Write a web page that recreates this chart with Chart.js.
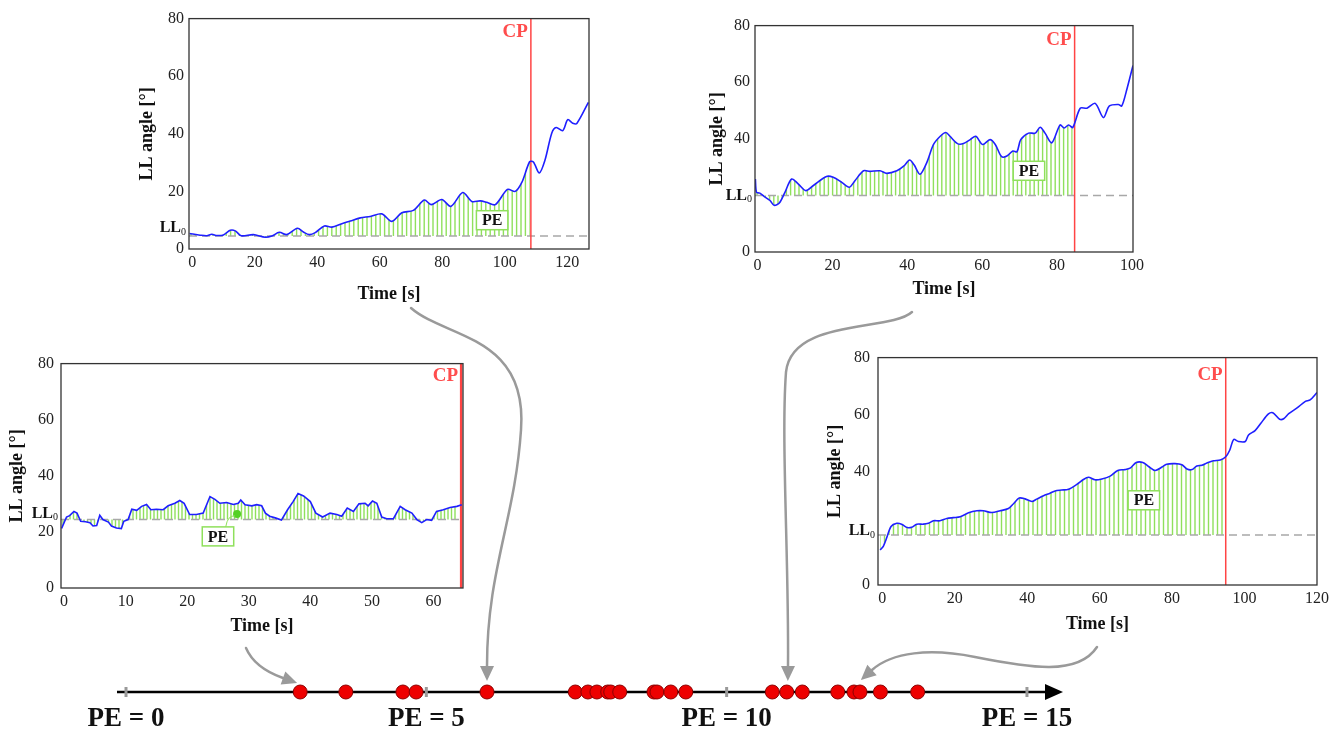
<!DOCTYPE html>
<html><head><meta charset="utf-8">
<script src="https://cdn.jsdelivr.net/npm/chart.js@4.4.1/dist/chart.umd.min.js"></script>
<style>
html,body{margin:0;padding:0;background:#fff;width:1338px;height:731px;overflow:hidden;position:relative}
canvas{display:block;position:absolute}
#ov{left:0;top:0;pointer-events:none;z-index:5}
</style></head><body>
<canvas id="cA"></canvas><canvas id="cB"></canvas><canvas id="cC"></canvas><canvas id="cD"></canvas>
<canvas id="cPE"></canvas>
<canvas id="ov" width="1338" height="731"></canvas>
<script>
// ---------- DATA ----------
const timeA=[-0.85,2.6,4.7,6.3,7.9,10,12.2,13.8,15.7,19.6,23.4,25.5,27.9,30.3,33.7,35.6,37.5,39.4,42.3,44.7,47.9,50.6,53.8,57,60.7,63.9,67.1,70.8,74.3,76.5,79.9,82.8,86.6,89.5,92.2,94.3,97,100.9,103.4,105.5,108,109.2,111.1,112.9,115.1,116.5,118.6,120.2,121.8,123.1,126.8];
const angleA=[5.4,4.8,4.6,5.1,4.7,4.9,6.5,6.3,4.6,5.0,4.1,4.5,5.8,5.0,7.2,5.9,5.0,5.7,8.0,7.6,8.8,9.7,10.8,11.3,12.2,9.6,12.6,13.4,17.0,15.4,17.2,14.8,19.6,16.5,16.7,16.2,15.4,20.7,20.0,23.1,30.3,30.2,26.4,30.8,40.3,42.2,41.1,44.9,43.7,43.6,50.9];
const ll0A=4.5, cpA=108.4, peLabelA=[96,10];

const timeB=[-0.6,-0.3,0.6,2,3.3,4.4,5.8,7.3,9.1,10.9,12.9,14.9,18.4,20.2,22.5,24.5,26,28.3,30,32.7,34.5,37.2,39.1,40.6,41.8,43.4,45.2,47,48.8,50.3,51.4,53.4,55,56.8,58.3,60.1,62.1,63.5,65.2,66.6,68.2,69.3,70.3,72.4,74.2,75.5,76.8,78.6,80.8,81.9,83.1,84.2,86.2,88,90.2,92.4,94,96.4,97.3,98.7,100.3];
const angleB=[25.8,21.1,20.8,19.4,18.2,16.5,17.3,21.1,25.8,24.0,21.7,23.5,26.7,26.4,24.6,22.9,25.2,28.7,28.5,28.7,27.8,28.7,30.4,32.5,30.8,27.5,31.6,38.0,40.9,42.2,40.9,38.3,38.3,39.7,40.9,38.0,39.7,38.0,33.7,33.9,35.7,35.4,39.7,42.0,42.0,44.1,42.0,38.6,44.9,43.8,44.9,44.0,50.8,50.8,52.5,47.5,51.6,52.1,51.6,57.7,65.9];
const ll0B=20, cpB=84.7, peLabelB=[72.5,28.7];

const timeC=[-0.4,0,0.4,0.9,1.6,2.1,2.7,3.5,4.2,4.7,5.3,5.8,6.3,7.2,7.7,8.5,9.3,9.7,10.4,11,11.8,12.6,13.4,14.1,15,16.1,16.9,18,18.8,19.5,20.4,21.5,22.6,23.7,24.5,25.3,26.4,27.5,28.3,28.7,29.4,30.5,31.3,32.1,32.7,33.4,34.3,35.3,36.3,37.2,38,38.9,40,40.9,42,43.2,44.3,45.1,46,47,47.9,48.9,49.4,50.1,50.8,51.6,52.4,53.5,54.6,55.4,56.5,57.3,58.1,58.9,59.7,60.5,61.6,62.7,63.8,64.6];
const angleC=[21.2,23.3,25.3,25.8,27.3,26.7,23.8,23.6,23.3,22.1,22.3,25.9,24.4,23.5,22.1,21.4,21.2,23.8,24.4,28.1,27.7,29.1,29.8,27.9,28.1,27.9,29.3,30.2,31.2,30.2,26.2,26.2,26.7,32.6,31.6,30.2,30.5,29.8,30.2,31.4,29.7,29.3,29.7,29.3,26.7,25.6,25.0,24.2,27.9,30.8,33.7,32.8,30.8,26.7,25.3,26.7,26.2,25.6,28.5,27.3,30.0,30.2,29.3,31.0,30.2,25.3,24.7,24.7,29.1,27.9,26.7,24.4,23.3,24.4,24.1,27.3,27.9,28.7,29.1,29.7];
const ll0C=24.4, cpC=64.5, peLabelC=[25,18.4], peDotC=[28.1,26.4];

const timeD=[-0.6,0.3,1.2,2.4,4.0,5.3,6.9,8.1,9.5,11.3,12.7,14.1,15.9,17.8,19.6,21.5,23.8,26.1,27.9,30.2,32.5,34.8,36.2,37.8,39.4,41.3,42.6,44.5,46.3,47.7,49.5,51.4,53.7,55.5,56.9,58.7,60.6,62.9,65.0,67.0,68.4,70.1,71.9,73.5,75.3,77.2,78.5,80.8,82.7,84.1,85.5,86.8,88.2,89.6,91.4,93.3,94.8,95.9,97.0,98.3,100.2,101.1,102.9,104.5,106.6,107.8,109.7,110.8,112.2,114.5,116.8,118.1,120];
const angleD=[12.3,13.7,16.6,20.6,21.7,21.4,20.2,20.3,21.4,21.4,21.7,22.6,22.6,23.4,23.7,24.0,25.4,26.1,26.1,25.5,26.1,26.9,28.6,30.6,30.3,29.4,30.2,31.4,32.3,33.1,33.4,33.7,35.4,37.1,37.9,37.0,37.3,38.3,40.3,40.6,41.1,43.1,43.1,41.7,40.3,41.5,42.5,42.7,42.3,40.8,40.6,41.9,42.1,42.9,43.7,44.0,45.1,47.4,51.2,50.5,50.5,52.8,54.3,56.9,60.2,60.6,58.3,58.5,60.3,62.3,64.6,65.1,67.7];
const ll0D=17.6, cpD=94.8, peLabelD=[72.2,29.8];

const yTicksA=[0,20,40,60,80];
const yTicksB=[0,40,60,80];
const yTicksC=[0,20,40,60,80];
const yTicksD=[0,40,60,80];
const xTicksA=[0,20,40,60,80,100,120];
const xTicksB=[0,20,40,60,80,100];
const xTicksC=[0,10,20,30,40,50,60];
const xTicksD=[0,20,40,60,80,100,120];

const peValues=[2.90,3.66,4.61,4.83,6.01,7.48,7.69,7.84,8.02,8.07,8.22,8.79,8.84,9.07,9.32,10.76,11.00,11.26,11.85,12.12,12.22,12.56,13.18];
const peTicks=[0,5,10,15];

// ---------- STYLE / LAYOUT ----------
const FONT='"Liberation Serif", "DejaVu Serif", serif';
Chart.defaults.font.family=FONT;
Chart.defaults.color='#1a1a1a';
const GREEN='#8fe05c', BLUE='#1f1fff', RED='#ff4444', GREY='#a8a8a8';

const panels=[
 {cv:'cA', t:timeA, v:angleA, ll0:ll0A, cp:cpA, pe:peLabelA, xTicks:xTicksA, yTicks:yTicksA, xMin:-1, xMax:127,
  L:189,T:16,R:589,B:249, Lw:52, Bh:56, Tp:12, Rp:16, tension:0.3, hs:4.4, llDy:-8, cpDy:13, yPad:5, cpW:1.5},
 {cv:'cB', t:timeB, v:angleB, ll0:ll0B, cp:cpB, pe:peLabelB, xTicks:xTicksB, yTicks:yTicksB, xMin:-0.7, xMax:100.3,
  L:755,T:23,R:1133,B:252, Lw:48, Bh:48, Tp:12, Rp:16, tension:0.3, hs:4.2, llDy:0, cpDy:14, yPad:5, cpW:1.5},
 {cv:'cC', t:timeC, v:angleC, ll0:ll0C, cp:cpC, pe:peLabelC, xTicks:xTicksC, yTicks:yTicksC, xMin:-0.5, xMax:64.8,
  L:61,T:359,R:463,B:588, Lw:54, Bh:49, Tp:12, Rp:16, tension:0, hs:3.5, llDy:-6, cpDy:12, yPad:7, cpW:2.5, dot:peDotC},
 {cv:'cD', t:timeD, v:angleD, ll0:ll0D, cp:cpD, pe:peLabelD, xTicks:xTicksD, yTicks:yTicksD, xMin:-1.2, xMax:120,
  L:878,T:352,R:1317,B:585, Lw:53, Bh:50, Tp:12, Rp:21, tension:0.3, hs:4.5, llDy:-4, cpDy:17, yPad:8, cpW:1.5}
];

function drawPEBox(ctx,cx,cy){
  ctx.save();
  ctx.font='bold 16px '+FONT;
  const w=ctx.measureText('PE').width+11, h=19;
  ctx.fillStyle='#fff'; ctx.fillRect(cx-w/2,cy-h/2,w,h);
  ctx.strokeStyle=GREEN; ctx.lineWidth=1.5; ctx.strokeRect(cx-w/2,cy-h/2,w,h);
  ctx.fillStyle='#111'; ctx.textAlign='center'; ctx.textBaseline='middle';
  ctx.fillText('PE',cx,cy+1);
  ctx.restore();
  return {w,h};
}

panels.forEach(p=>{
  const cv=document.getElementById(p.cv);
  const W=p.Lw+(p.R-p.L)+p.Rp, H=p.Tp+(p.B-p.T)+p.Bh;
  cv.width=W; cv.height=H;
  cv.style.left=(p.L-p.Lw)+'px'; cv.style.top=(p.T-p.Tp)+'px';
  cv.style.width=W+'px'; cv.style.height=H+'px';
  const pts=p.t.map((x,i)=>({x, y:p.v[i]}));
  const hatchPts=pts.filter(d=>d.x<=p.cp);
  const datasets=[
    {data:pts, borderColor:BLUE, borderWidth:1.6, pointRadius:0, tension:p.tension, fill:false, order:0},
    {data:[{x:p.xMin,y:p.ll0},{x:p.xMax,y:p.ll0}], borderColor:GREY, borderWidth:1.5, borderDash:[8,5], pointRadius:0, fill:false, order:2},
    {data:[{x:p.cp,y:0},{x:p.cp,y:80}], borderColor:RED, borderWidth:p.cpW, pointRadius:0, fill:false, order:1},
    {data:hatchPts, borderWidth:0, borderColor:'rgba(0,0,0,0)', pointRadius:0, tension:p.tension, fill:false, order:3}
  ];
  if(p.dot){
    datasets.push({type:'scatter', data:[{x:p.dot[0],y:p.dot[1]}], pointRadius:4, pointBackgroundColor:'#55d025', pointBorderWidth:0, order:0});
  }
  const deco={
    id:'deco'+p.cv,
    beforeDatasetsDraw(chart){
      const {ctx, chartArea:a, scales:{x,y}}=chart;
      const meta=chart.getDatasetMeta(3);
      const el=meta.data; if(!el.length) return;
      const yl=y.getPixelForValue(p.ll0);
      const xEnd=el[el.length-1].x;
      ctx.save();
      ctx.beginPath();
      if(meta.dataset && typeof meta.dataset.path==='function'){ meta.dataset.path(ctx); }
      else { ctx.moveTo(el[0].x,el[0].y); el.forEach(e=>ctx.lineTo(e.x,e.y)); }
      ctx.lineTo(xEnd,yl); ctx.lineTo(el[0].x,yl); ctx.closePath();
      ctx.clip();
      ctx.strokeStyle=GREEN; ctx.lineWidth=1.4;
      ctx.beginPath();
      for(let xx=a.left+2; xx<=xEnd+0.5; xx+=p.hs){ ctx.moveTo(xx,a.top); ctx.lineTo(xx,a.bottom); }
      ctx.stroke();
      ctx.restore();
    },
    afterDatasetsDraw(chart){
      const {ctx, chartArea:a, scales:{x,y}}=chart;
      ctx.save();
      ctx.strokeStyle='#333'; ctx.lineWidth=1.3;
      ctx.strokeRect(a.left,a.top,a.right-a.left,a.bottom-a.top);
      const cx=x.getPixelForValue(p.cp);
      ctx.font='bold 19px '+FONT; ctx.fillStyle='#ff4d4d'; ctx.textAlign='right'; ctx.textBaseline='middle';
      ctx.fillText('CP', cx-3, a.top+p.cpDy);
      const ly=y.getPixelForValue(p.ll0)+p.llDy;
      ctx.fillStyle='#111';
      ctx.font='10px '+FONT; const w0=ctx.measureText('0').width;
      ctx.fillText('0', a.left-3, ly+4);
      ctx.font='bold 16px '+FONT;
      ctx.fillText('LL', a.left-3-w0, ly);
      const px=x.getPixelForValue(p.pe[0]), py=y.getPixelForValue(p.pe[1]);
      const bx=drawPEBox(ctx,px,py);
      if(p.dot){
        const dx=x.getPixelForValue(p.dot[0]), dy=y.getPixelForValue(p.dot[1]);
        ctx.strokeStyle=GREEN; ctx.lineWidth=1;
        ctx.beginPath(); ctx.moveTo(px+bx.w/2-8, py-bx.h/2);
        ctx.quadraticCurveTo(px+bx.w/2-6, dy+1, dx-2, dy+2); ctx.stroke();
      }
      ctx.restore();
    }
  };
  new Chart(cv,{
    type:'line',
    data:{datasets},
    options:{
      responsive:false, animation:false, devicePixelRatio:1,
      layout:{padding:{left:0,top:p.Tp,right:p.Rp,bottom:0}},
      plugins:{legend:{display:false}, tooltip:{enabled:false}},
      scales:{
        x:{type:'linear', min:p.xMin, max:p.xMax,
           afterBuildTicks:s=>{s.ticks=p.xTicks.map(v=>({value:v}));},
           afterFit:s=>{s.height=p.Bh;},
           grid:{display:false, drawTicks:false}, border:{display:false},
           ticks:{font:{size:16}, color:'#222', padding:4, maxRotation:0, autoSkip:false},
           title:{display:true, text:'Time [s]', font:{size:18, weight:'bold'}, color:'#111', padding:0}},
        y:{type:'linear', min:0, max:80,
           afterBuildTicks:s=>{s.ticks=p.yTicks.map(v=>({value:v}));},
           afterFit:s=>{s.width=p.Lw;},
           grid:{display:false, drawTicks:false}, border:{display:false},
           ticks:{font:{size:16}, color:'#222', padding:p.yPad},
           title:{display:true, text:'LL angle [°]', font:{size:18, weight:'bold'}, color:'#111', padding:0}}
      }
    },
    plugins:[deco]
  });
});

// ---------- PE number line ----------
(function(){
  const cv=document.getElementById('cPE');
  cv.width=1338; cv.height=61; cv.style.left='0px'; cv.style.top='670px';
  cv.style.width='1338px'; cv.style.height='61px';
  const axisPlugin={
    id:'peAxis',
    beforeDatasetsDraw(chart){
      const {ctx, scales:{x,y}}=chart;
      const y0=y.getPixelForValue(0);
      const x0=x.getPixelForValue(x.min), x1=x.getPixelForValue(x.max);
      ctx.save();
      ctx.strokeStyle='#000'; ctx.lineWidth=2.5;
      ctx.beginPath(); ctx.moveTo(x0,y0); ctx.lineTo(x1-12,y0); ctx.stroke();
      ctx.fillStyle='#000';
      ctx.beginPath(); ctx.moveTo(x1,y0); ctx.lineTo(x1-18,y0-8); ctx.lineTo(x1-18,y0+8); ctx.closePath(); ctx.fill();
      ctx.strokeStyle='#999'; ctx.lineWidth=3;
      peTicks.forEach(v=>{const tx=x.getPixelForValue(v); ctx.beginPath(); ctx.moveTo(tx,y0-5); ctx.lineTo(tx,y0+5); ctx.stroke();});
      ctx.restore();
    }
  };
  new Chart(cv,{
    type:'scatter',
    data:{datasets:[{data:peValues.map(v=>({x:v,y:0})), pointRadius:7, pointBackgroundColor:'#ee0000', pointBorderColor:'#8a0000', pointBorderWidth:1, clip:false}]},
    options:{
      responsive:false, animation:false, devicePixelRatio:1,
      layout:{padding:{left:117,right:275,top:14,bottom:0}},
      plugins:{legend:{display:false}, tooltip:{enabled:false}},
      scales:{
        x:{type:'linear', min:-0.15, max:15.6,
           afterBuildTicks:s=>{s.ticks=peTicks.map(v=>({value:v}));},
           afterFit:s=>{s.height=31;},
           grid:{display:false, drawTicks:false}, border:{display:false},
           ticks:{font:{size:27, weight:'bold'}, color:'#111', padding:3, maxRotation:0, autoSkip:false,
                  callback:v=>'PE = '+v}},
        y:{display:false, min:-1, max:1}
      }
    },
    plugins:[axisPlugin]
  });
})();

// ---------- connecting arrows (decoration) ----------
(function(){
  const ctx=document.getElementById('ov').getContext('2d');
  ctx.strokeStyle='#9a9a9a'; ctx.fillStyle='#9a9a9a'; ctx.lineWidth=2.5; ctx.lineCap='round';
  function head(from,to){
    const dx=to[0]-from[0], dy=to[1]-from[1], l=Math.hypot(dx,dy), ux=dx/l, uy=dy/l;
    const tip=[to[0]+ux*15, to[1]+uy*15];
    ctx.beginPath(); ctx.moveTo(tip[0],tip[1]);
    ctx.lineTo(to[0]-uy*7, to[1]+ux*7); ctx.lineTo(to[0]+uy*7, to[1]-ux*7); ctx.closePath(); ctx.fill();
  }
  function arrow(start, segs){
    ctx.beginPath(); ctx.moveTo(start[0],start[1]);
    segs.forEach(s=>ctx.bezierCurveTo(s[0],s[1],s[2],s[3],s[4],s[5]));
    ctx.stroke();
    const last=segs[segs.length-1];
    head([last[2],last[3]],[last[4],last[5]]);
  }
  arrow([411,308],[[445,338,528,335,521,430],[515,520,487,570,487,666]]);
  arrow([912,312],[[890,332,792,318,786,372],[781,440,789,560,788,666]]);
  arrow([246,648],[[252,662,266,672,283,678]]);
  arrow([1097,647],[[1078,676,1030,668,975,657],[930,648,892,652,872,670]]);
})();
</script>
</body></html>
